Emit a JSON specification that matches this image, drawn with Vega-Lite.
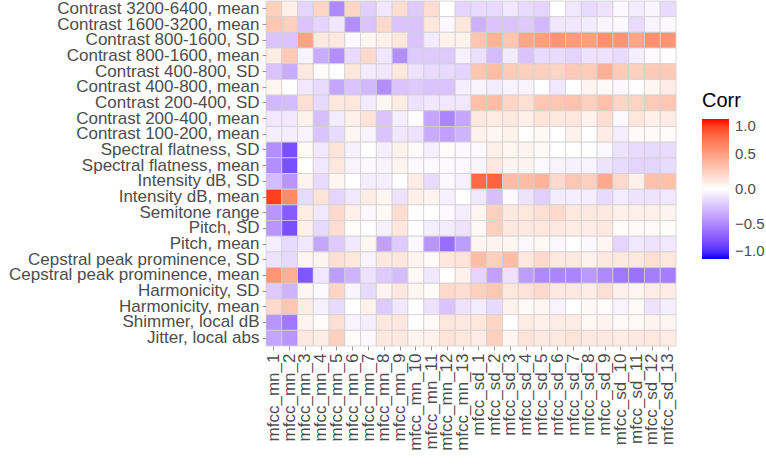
{
"$schema": "https://vega.github.io/schema/vega-lite/v6.json",
"width": 410, "height": 345,
"autosize": {"type": "none"},
"padding": {"left": 266, "top": 1, "right": 90, "bottom": 119},
"background": "white",
"datasets": {
"features": [
{"r":1,"feature":"Contrast 3200-6400, mean"},{"r":2,"feature":"Contrast 1600-3200, mean"},{"r":3,"feature":"Contrast 800-1600, SD"},{"r":4,"feature":"Contrast 800-1600, mean"},{"r":5,"feature":"Contrast 400-800, SD"},{"r":6,"feature":"Contrast 400-800, mean"},{"r":7,"feature":"Contrast 200-400, SD"},{"r":8,"feature":"Contrast 200-400, mean"},{"r":9,"feature":"Contrast 100-200, mean"},{"r":10,"feature":"Spectral flatness, SD"},{"r":11,"feature":"Spectral flatness, mean"},{"r":12,"feature":"Intensity dB, SD"},{"r":13,"feature":"Intensity dB, mean"},{"r":14,"feature":"Semitone range"},{"r":15,"feature":"Pitch, SD"},{"r":16,"feature":"Pitch, mean"},{"r":17,"feature":"Cepstral peak prominence, SD"},{"r":18,"feature":"Cepstral peak prominence, mean"},{"r":19,"feature":"Harmonicity, SD"},{"r":20,"feature":"Harmonicity, mean"},{"r":21,"feature":"Shimmer, local dB"},{"r":22,"feature":"Jitter, local abs"}
],
"mfccs": [
{"c":1,"mfcc":"mfcc_mn_1"},{"c":2,"mfcc":"mfcc_mn_2"},{"c":3,"mfcc":"mfcc_mn_3"},{"c":4,"mfcc":"mfcc_mn_4"},{"c":5,"mfcc":"mfcc_mn_5"},{"c":6,"mfcc":"mfcc_mn_6"},{"c":7,"mfcc":"mfcc_mn_7"},{"c":8,"mfcc":"mfcc_mn_8"},{"c":9,"mfcc":"mfcc_mn_9"},{"c":10,"mfcc":"mfcc_mn_10"},{"c":11,"mfcc":"mfcc_mn_11"},{"c":12,"mfcc":"mfcc_mn_12"},{"c":13,"mfcc":"mfcc_mn_13"},{"c":14,"mfcc":"mfcc_sd_1"},{"c":15,"mfcc":"mfcc_sd_2"},{"c":16,"mfcc":"mfcc_sd_3"},{"c":17,"mfcc":"mfcc_sd_4"},{"c":18,"mfcc":"mfcc_sd_5"},{"c":19,"mfcc":"mfcc_sd_6"},{"c":20,"mfcc":"mfcc_sd_7"},{"c":21,"mfcc":"mfcc_sd_8"},{"c":22,"mfcc":"mfcc_sd_9"},{"c":23,"mfcc":"mfcc_sd_10"},{"c":24,"mfcc":"mfcc_sd_11"},{"c":25,"mfcc":"mfcc_sd_12"},{"c":26,"mfcc":"mfcc_sd_13"}
],
"cells": [
{"r":1,"c":1,"v":0.25},{"r":1,"c":2,"v":0.08},{"r":1,"c":3,"v":-0.18},{"r":1,"c":4,"v":0.22},{"r":1,"c":5,"v":-0.5},{"r":1,"c":6,"v":0.22},{"r":1,"c":7,"v":-0.2},{"r":1,"c":8,"v":-0.1},{"r":1,"c":9,"v":0.18},{"r":1,"c":10,"v":-0.22},{"r":1,"c":11,"v":0.18},{"r":1,"c":12,"v":0},{"r":1,"c":13,"v":-0.18},{"r":1,"c":14,"v":-0.15},{"r":1,"c":15,"v":-0.15},{"r":1,"c":16,"v":-0.1},{"r":1,"c":17,"v":-0.15},{"r":1,"c":18,"v":-0.18},{"r":1,"c":19,"v":0},{"r":1,"c":20,"v":-0.1},{"r":1,"c":21,"v":-0.15},{"r":1,"c":22,"v":-0.12},{"r":1,"c":23,"v":-0.03},{"r":1,"c":24,"v":-0.08},{"r":1,"c":25,"v":-0.04},{"r":1,"c":26,"v":-0.15},
{"r":2,"c":1,"v":0.3},{"r":2,"c":2,"v":0.25},{"r":2,"c":3,"v":-0.25},{"r":2,"c":4,"v":-0.18},{"r":2,"c":5,"v":-0.1},{"r":2,"c":6,"v":-0.48},{"r":2,"c":7,"v":-0.25},{"r":2,"c":8,"v":0.2},{"r":2,"c":9,"v":-0.25},{"r":2,"c":10,"v":-0.25},{"r":2,"c":11,"v":0.13},{"r":2,"c":12,"v":-0.03},{"r":2,"c":13,"v":0.13},{"r":2,"c":14,"v":-0.33},{"r":2,"c":15,"v":-0.25},{"r":2,"c":16,"v":-0.25},{"r":2,"c":17,"v":-0.22},{"r":2,"c":18,"v":-0.3},{"r":2,"c":19,"v":-0.1},{"r":2,"c":20,"v":-0.1},{"r":2,"c":21,"v":-0.08},{"r":2,"c":22,"v":-0.04},{"r":2,"c":23,"v":-0.03},{"r":2,"c":24,"v":-0.15},{"r":2,"c":25,"v":-0.05},{"r":2,"c":26,"v":-0.03},
{"r":3,"c":1,"v":-0.25},{"r":3,"c":2,"v":-0.25},{"r":3,"c":3,"v":0.48},{"r":3,"c":4,"v":0.12},{"r":3,"c":5,"v":0.12},{"r":3,"c":6,"v":-0.03},{"r":3,"c":7,"v":0.05},{"r":3,"c":8,"v":0.08},{"r":3,"c":9,"v":0.13},{"r":3,"c":10,"v":-0.25},{"r":3,"c":11,"v":-0.08},{"r":3,"c":12,"v":0.07},{"r":3,"c":13,"v":0.07},{"r":3,"c":14,"v":0.3},{"r":3,"c":15,"v":0.4},{"r":3,"c":16,"v":0.3},{"r":3,"c":17,"v":0.47},{"r":3,"c":18,"v":0.5},{"r":3,"c":19,"v":0.55},{"r":3,"c":20,"v":0.52},{"r":3,"c":21,"v":0.5},{"r":3,"c":22,"v":0.57},{"r":3,"c":23,"v":0.55},{"r":3,"c":24,"v":0.47},{"r":3,"c":25,"v":0.57},{"r":3,"c":26,"v":0.55},
{"r":4,"c":1,"v":0.1},{"r":4,"c":2,"v":0.28},{"r":4,"c":3,"v":-0.05},{"r":4,"c":4,"v":-0.35},{"r":4,"c":5,"v":-0.48},{"r":4,"c":6,"v":-0.15},{"r":4,"c":7,"v":0.2},{"r":4,"c":8,"v":-0.1},{"r":4,"c":9,"v":-0.48},{"r":4,"c":10,"v":-0.22},{"r":4,"c":11,"v":-0.22},{"r":4,"c":12,"v":-0.22},{"r":4,"c":13,"v":-0.06},{"r":4,"c":14,"v":-0.13},{"r":4,"c":15,"v":-0.28},{"r":4,"c":16,"v":-0.08},{"r":4,"c":17,"v":-0.25},{"r":4,"c":18,"v":-0.15},{"r":4,"c":19,"v":-0.15},{"r":4,"c":20,"v":-0.18},{"r":4,"c":21,"v":-0.12},{"r":4,"c":22,"v":-0.12},{"r":4,"c":23,"v":-0.15},{"r":4,"c":24,"v":-0.07},{"r":4,"c":25,"v":-0.02},{"r":4,"c":26,"v":0},
{"r":5,"c":1,"v":-0.25},{"r":5,"c":2,"v":-0.35},{"r":5,"c":3,"v":0.12},{"r":5,"c":4,"v":0.02},{"r":5,"c":5,"v":0},{"r":5,"c":6,"v":0.13},{"r":5,"c":7,"v":-0.08},{"r":5,"c":8,"v":-0.1},{"r":5,"c":9,"v":0.13},{"r":5,"c":10,"v":-0.12},{"r":5,"c":11,"v":-0.15},{"r":5,"c":12,"v":-0.16},{"r":5,"c":13,"v":-0.18},{"r":5,"c":14,"v":0.3},{"r":5,"c":15,"v":0.35},{"r":5,"c":16,"v":0.27},{"r":5,"c":17,"v":0.25},{"r":5,"c":18,"v":0.25},{"r":5,"c":19,"v":0.22},{"r":5,"c":20,"v":0.28},{"r":5,"c":21,"v":0.27},{"r":5,"c":22,"v":0.42},{"r":5,"c":23,"v":0.27},{"r":5,"c":24,"v":0.25},{"r":5,"c":25,"v":0.28},{"r":5,"c":26,"v":0.28},
{"r":6,"c":1,"v":0.05},{"r":6,"c":2,"v":0},{"r":6,"c":3,"v":-0.1},{"r":6,"c":4,"v":-0.15},{"r":6,"c":5,"v":-0.38},{"r":6,"c":6,"v":-0.25},{"r":6,"c":7,"v":-0.3},{"r":6,"c":8,"v":-0.48},{"r":6,"c":9,"v":-0.25},{"r":6,"c":10,"v":-0.22},{"r":6,"c":11,"v":-0.25},{"r":6,"c":12,"v":-0.25},{"r":6,"c":13,"v":-0.07},{"r":6,"c":14,"v":-0.05},{"r":6,"c":15,"v":-0.08},{"r":6,"c":16,"v":-0.05},{"r":6,"c":17,"v":-0.05},{"r":6,"c":18,"v":0},{"r":6,"c":19,"v":-0.1},{"r":6,"c":20,"v":0},{"r":6,"c":21,"v":0.06},{"r":6,"c":22,"v":0.03},{"r":6,"c":23,"v":-0.03},{"r":6,"c":24,"v":0},{"r":6,"c":25,"v":0.05},{"r":6,"c":26,"v":0.1},
{"r":7,"c":1,"v":-0.3},{"r":7,"c":2,"v":-0.28},{"r":7,"c":3,"v":0.17},{"r":7,"c":4,"v":-0.16},{"r":7,"c":5,"v":0.13},{"r":7,"c":6,"v":0.13},{"r":7,"c":7,"v":-0.08},{"r":7,"c":8,"v":0.05},{"r":7,"c":9,"v":0.1},{"r":7,"c":10,"v":-0.12},{"r":7,"c":11,"v":-0.1},{"r":7,"c":12,"v":-0.1},{"r":7,"c":13,"v":-0.1},{"r":7,"c":14,"v":0.33},{"r":7,"c":15,"v":0.35},{"r":7,"c":16,"v":0.22},{"r":7,"c":17,"v":0.17},{"r":7,"c":18,"v":0.3},{"r":7,"c":19,"v":0.3},{"r":7,"c":20,"v":0.32},{"r":7,"c":21,"v":0.25},{"r":7,"c":22,"v":0.33},{"r":7,"c":23,"v":0.22},{"r":7,"c":24,"v":0.23},{"r":7,"c":25,"v":0.28},{"r":7,"c":26,"v":0.3},
{"r":8,"c":1,"v":-0.1},{"r":8,"c":2,"v":-0.1},{"r":8,"c":3,"v":0.07},{"r":8,"c":4,"v":-0.27},{"r":8,"c":5,"v":-0.08},{"r":8,"c":6,"v":0.08},{"r":8,"c":7,"v":0.15},{"r":8,"c":8,"v":-0.25},{"r":8,"c":9,"v":-0.07},{"r":8,"c":10,"v":0},{"r":8,"c":11,"v":-0.38},{"r":8,"c":12,"v":-0.52},{"r":8,"c":13,"v":-0.38},{"r":8,"c":14,"v":0.12},{"r":8,"c":15,"v":0.1},{"r":8,"c":16,"v":0.12},{"r":8,"c":17,"v":0.08},{"r":8,"c":18,"v":0.15},{"r":8,"c":19,"v":0.12},{"r":8,"c":20,"v":0.13},{"r":8,"c":21,"v":0.07},{"r":8,"c":22,"v":0.18},{"r":8,"c":23,"v":-0.02},{"r":8,"c":24,"v":0.13},{"r":8,"c":25,"v":0.08},{"r":8,"c":26,"v":0.1},
{"r":9,"c":1,"v":-0.07},{"r":9,"c":2,"v":-0.07},{"r":9,"c":3,"v":-0.05},{"r":9,"c":4,"v":-0.25},{"r":9,"c":5,"v":-0.15},{"r":9,"c":6,"v":0.05},{"r":9,"c":7,"v":-0.05},{"r":9,"c":8,"v":-0.25},{"r":9,"c":9,"v":-0.1},{"r":9,"c":10,"v":-0.12},{"r":9,"c":11,"v":-0.35},{"r":9,"c":12,"v":-0.4},{"r":9,"c":13,"v":-0.32},{"r":9,"c":14,"v":0.07},{"r":9,"c":15,"v":0.05},{"r":9,"c":16,"v":0.07},{"r":9,"c":17,"v":0},{"r":9,"c":18,"v":0.04},{"r":9,"c":19,"v":0},{"r":9,"c":20,"v":0.07},{"r":9,"c":21,"v":0},{"r":9,"c":22,"v":0.1},{"r":9,"c":23,"v":-0.07},{"r":9,"c":24,"v":0.03},{"r":9,"c":25,"v":0.03},{"r":9,"c":26,"v":0.02},
{"r":10,"c":1,"v":-0.48},{"r":10,"c":2,"v":-0.75},{"r":10,"c":3,"v":0.03},{"r":10,"c":4,"v":-0.1},{"r":10,"c":5,"v":0.15},{"r":10,"c":6,"v":-0.06},{"r":10,"c":7,"v":0},{"r":10,"c":8,"v":-0.07},{"r":10,"c":9,"v":0.07},{"r":10,"c":10,"v":0.02},{"r":10,"c":11,"v":-0.07},{"r":10,"c":12,"v":0.02},{"r":10,"c":13,"v":-0.03},{"r":10,"c":14,"v":-0.02},{"r":10,"c":15,"v":0.08},{"r":10,"c":16,"v":0.05},{"r":10,"c":17,"v":0.06},{"r":10,"c":18,"v":0.04},{"r":10,"c":19,"v":0},{"r":10,"c":20,"v":0},{"r":10,"c":21,"v":-0.01},{"r":10,"c":22,"v":-0.03},{"r":10,"c":23,"v":-0.12},{"r":10,"c":24,"v":-0.15},{"r":10,"c":25,"v":-0.16},{"r":10,"c":26,"v":-0.15},
{"r":11,"c":1,"v":-0.48},{"r":11,"c":2,"v":-0.75},{"r":11,"c":3,"v":0},{"r":11,"c":4,"v":-0.1},{"r":11,"c":5,"v":0.13},{"r":11,"c":6,"v":-0.05},{"r":11,"c":7,"v":-0.03},{"r":11,"c":8,"v":-0.05},{"r":11,"c":9,"v":0.06},{"r":11,"c":10,"v":-0.02},{"r":11,"c":11,"v":-0.02},{"r":11,"c":12,"v":-0.02},{"r":11,"c":13,"v":-0.03},{"r":11,"c":14,"v":-0.04},{"r":11,"c":15,"v":0.12},{"r":11,"c":16,"v":0.06},{"r":11,"c":17,"v":0.06},{"r":11,"c":18,"v":-0.02},{"r":11,"c":19,"v":-0.05},{"r":11,"c":20,"v":-0.06},{"r":11,"c":21,"v":-0.05},{"r":11,"c":22,"v":-0.12},{"r":11,"c":23,"v":-0.15},{"r":11,"c":24,"v":-0.18},{"r":11,"c":25,"v":-0.18},{"r":11,"c":26,"v":-0.15},
{"r":12,"c":1,"v":-0.28},{"r":12,"c":2,"v":-0.45},{"r":12,"c":3,"v":0.06},{"r":12,"c":4,"v":-0.15},{"r":12,"c":5,"v":0.05},{"r":12,"c":6,"v":0},{"r":12,"c":7,"v":-0.07},{"r":12,"c":8,"v":-0.07},{"r":12,"c":9,"v":0},{"r":12,"c":10,"v":0.1},{"r":12,"c":11,"v":-0.15},{"r":12,"c":12,"v":-0.03},{"r":12,"c":13,"v":-0.06},{"r":12,"c":14,"v":0.75},{"r":12,"c":15,"v":0.78},{"r":12,"c":16,"v":0.35},{"r":12,"c":17,"v":0.35},{"r":12,"c":18,"v":0.4},{"r":12,"c":19,"v":0.2},{"r":12,"c":20,"v":0.3},{"r":12,"c":21,"v":0.25},{"r":12,"c":22,"v":0.45},{"r":12,"c":23,"v":0.2},{"r":12,"c":24,"v":0.08},{"r":12,"c":25,"v":0.33},{"r":12,"c":26,"v":0.33},
{"r":13,"c":1,"v":0.9},{"r":13,"c":2,"v":0.6},{"r":13,"c":3,"v":-0.15},{"r":13,"c":4,"v":0.15},{"r":13,"c":5,"v":-0.18},{"r":13,"c":6,"v":-0.1},{"r":13,"c":7,"v":0.1},{"r":13,"c":8,"v":0.05},{"r":13,"c":9,"v":-0.12},{"r":13,"c":10,"v":0.08},{"r":13,"c":11,"v":0.06},{"r":13,"c":12,"v":-0.06},{"r":13,"c":13,"v":0},{"r":13,"c":14,"v":-0.1},{"r":13,"c":15,"v":-0.27},{"r":13,"c":16,"v":-0.02},{"r":13,"c":17,"v":-0.12},{"r":13,"c":18,"v":-0.2},{"r":13,"c":19,"v":-0.08},{"r":13,"c":20,"v":-0.07},{"r":13,"c":21,"v":-0.07},{"r":13,"c":22,"v":-0.15},{"r":13,"c":23,"v":-0.08},{"r":13,"c":24,"v":-0.12},{"r":13,"c":25,"v":-0.12},{"r":13,"c":26,"v":-0.1},
{"r":14,"c":1,"v":-0.45},{"r":14,"c":2,"v":-0.7},{"r":14,"c":3,"v":0.1},{"r":14,"c":4,"v":-0.1},{"r":14,"c":5,"v":0.2},{"r":14,"c":6,"v":0.08},{"r":14,"c":7,"v":-0.03},{"r":14,"c":8,"v":0.04},{"r":14,"c":9,"v":0.18},{"r":14,"c":10,"v":0},{"r":14,"c":11,"v":0},{"r":14,"c":12,"v":-0.02},{"r":14,"c":13,"v":-0.07},{"r":14,"c":14,"v":0.05},{"r":14,"c":15,"v":0.25},{"r":14,"c":16,"v":0.12},{"r":14,"c":17,"v":0.13},{"r":14,"c":18,"v":0.17},{"r":14,"c":19,"v":0.2},{"r":14,"c":20,"v":0.12},{"r":14,"c":21,"v":0.12},{"r":14,"c":22,"v":0.12},{"r":14,"c":23,"v":0.08},{"r":14,"c":24,"v":0.08},{"r":14,"c":25,"v":0.08},{"r":14,"c":26,"v":0.06},
{"r":15,"c":1,"v":-0.45},{"r":15,"c":2,"v":-0.75},{"r":15,"c":3,"v":0.08},{"r":15,"c":4,"v":-0.16},{"r":15,"c":5,"v":0.18},{"r":15,"c":6,"v":0.02},{"r":15,"c":7,"v":0},{"r":15,"c":8,"v":-0.06},{"r":15,"c":9,"v":0.13},{"r":15,"c":10,"v":0},{"r":15,"c":11,"v":-0.07},{"r":15,"c":12,"v":-0.08},{"r":15,"c":13,"v":-0.12},{"r":15,"c":14,"v":0.04},{"r":15,"c":15,"v":0.25},{"r":15,"c":16,"v":0.12},{"r":15,"c":17,"v":0.12},{"r":15,"c":18,"v":0.13},{"r":15,"c":19,"v":0.12},{"r":15,"c":20,"v":0.1},{"r":15,"c":21,"v":0.1},{"r":15,"c":22,"v":0.12},{"r":15,"c":23,"v":0.02},{"r":15,"c":24,"v":0.03},{"r":15,"c":25,"v":0.03},{"r":15,"c":26,"v":0.01},
{"r":16,"c":1,"v":-0.07},{"r":16,"c":2,"v":-0.15},{"r":16,"c":3,"v":-0.1},{"r":16,"c":4,"v":-0.38},{"r":16,"c":5,"v":-0.22},{"r":16,"c":6,"v":-0.1},{"r":16,"c":7,"v":0.05},{"r":16,"c":8,"v":-0.4},{"r":16,"c":9,"v":-0.22},{"r":16,"c":10,"v":-0.03},{"r":16,"c":11,"v":-0.45},{"r":16,"c":12,"v":-0.62},{"r":16,"c":13,"v":-0.42},{"r":16,"c":14,"v":0.05},{"r":16,"c":15,"v":0.06},{"r":16,"c":16,"v":0.05},{"r":16,"c":17,"v":-0.03},{"r":16,"c":18,"v":0.04},{"r":16,"c":19,"v":-0.03},{"r":16,"c":20,"v":0},{"r":16,"c":21,"v":-0.03},{"r":16,"c":22,"v":0.05},{"r":16,"c":23,"v":-0.18},{"r":16,"c":24,"v":-0.1},{"r":16,"c":25,"v":-0.12},{"r":16,"c":26,"v":-0.1},
{"r":17,"c":1,"v":-0.12},{"r":17,"c":2,"v":-0.16},{"r":17,"c":3,"v":0.05},{"r":17,"c":4,"v":0.06},{"r":17,"c":5,"v":0.17},{"r":17,"c":6,"v":0.13},{"r":17,"c":7,"v":-0.05},{"r":17,"c":8,"v":0.12},{"r":17,"c":9,"v":0.13},{"r":17,"c":10,"v":0.06},{"r":17,"c":11,"v":0.03},{"r":17,"c":12,"v":0.13},{"r":17,"c":13,"v":0.15},{"r":17,"c":14,"v":0.35},{"r":17,"c":15,"v":0.25},{"r":17,"c":16,"v":0.35},{"r":17,"c":17,"v":0.12},{"r":17,"c":18,"v":0.2},{"r":17,"c":19,"v":0.12},{"r":17,"c":20,"v":0.12},{"r":17,"c":21,"v":0.07},{"r":17,"c":22,"v":0.12},{"r":17,"c":23,"v":0.12},{"r":17,"c":24,"v":0.12},{"r":17,"c":25,"v":0.17},{"r":17,"c":26,"v":0.13},
{"r":18,"c":1,"v":0.55},{"r":18,"c":2,"v":0.42},{"r":18,"c":3,"v":-0.72},{"r":18,"c":4,"v":-0.1},{"r":18,"c":5,"v":-0.42},{"r":18,"c":6,"v":-0.32},{"r":18,"c":7,"v":-0.12},{"r":18,"c":8,"v":-0.22},{"r":18,"c":9,"v":-0.28},{"r":18,"c":10,"v":0.04},{"r":18,"c":11,"v":-0.1},{"r":18,"c":12,"v":0},{"r":18,"c":13,"v":0.07},{"r":18,"c":14,"v":-0.18},{"r":18,"c":15,"v":-0.4},{"r":18,"c":16,"v":-0.12},{"r":18,"c":17,"v":-0.42},{"r":18,"c":18,"v":-0.5},{"r":18,"c":19,"v":-0.52},{"r":18,"c":20,"v":-0.52},{"r":18,"c":21,"v":-0.43},{"r":18,"c":22,"v":-0.5},{"r":18,"c":23,"v":-0.58},{"r":18,"c":24,"v":-0.6},{"r":18,"c":25,"v":-0.55},{"r":18,"c":26,"v":-0.55},
{"r":19,"c":1,"v":-0.22},{"r":19,"c":2,"v":-0.32},{"r":19,"c":3,"v":0.05},{"r":19,"c":4,"v":-0.02},{"r":19,"c":5,"v":0.22},{"r":19,"c":6,"v":-0.04},{"r":19,"c":7,"v":-0.16},{"r":19,"c":8,"v":0.06},{"r":19,"c":9,"v":0.12},{"r":19,"c":10,"v":0.05},{"r":19,"c":11,"v":0.02},{"r":19,"c":12,"v":0.2},{"r":19,"c":13,"v":0.18},{"r":19,"c":14,"v":0.25},{"r":19,"c":15,"v":0.3},{"r":19,"c":16,"v":0.13},{"r":19,"c":17,"v":0.15},{"r":19,"c":18,"v":0.2},{"r":19,"c":19,"v":0.12},{"r":19,"c":20,"v":0.12},{"r":19,"c":21,"v":0.1},{"r":19,"c":22,"v":0.17},{"r":19,"c":23,"v":0.08},{"r":19,"c":24,"v":0.05},{"r":19,"c":25,"v":0.1},{"r":19,"c":26,"v":0.1},
{"r":20,"c":1,"v":0.2},{"r":20,"c":2,"v":0.3},{"r":20,"c":3,"v":0.1},{"r":20,"c":4,"v":-0.06},{"r":20,"c":5,"v":-0.15},{"r":20,"c":6,"v":0},{"r":20,"c":7,"v":0.07},{"r":20,"c":8,"v":-0.22},{"r":20,"c":9,"v":-0.1},{"r":20,"c":10,"v":0},{"r":20,"c":11,"v":-0.12},{"r":20,"c":12,"v":-0.25},{"r":20,"c":13,"v":-0.12},{"r":20,"c":14,"v":-0.08},{"r":20,"c":15,"v":-0.16},{"r":20,"c":16,"v":0.07},{"r":20,"c":17,"v":0.03},{"r":20,"c":18,"v":0.05},{"r":20,"c":19,"v":-0.05},{"r":20,"c":20,"v":0},{"r":20,"c":21,"v":0.04},{"r":20,"c":22,"v":0.02},{"r":20,"c":23,"v":-0.05},{"r":20,"c":24,"v":0.03},{"r":20,"c":25,"v":-0.12},{"r":20,"c":26,"v":-0.07},
{"r":21,"c":1,"v":-0.45},{"r":21,"c":2,"v":-0.58},{"r":21,"c":3,"v":0.06},{"r":21,"c":4,"v":0.02},{"r":21,"c":5,"v":0.17},{"r":21,"c":6,"v":-0.05},{"r":21,"c":7,"v":-0.07},{"r":21,"c":8,"v":0.12},{"r":21,"c":9,"v":0.12},{"r":21,"c":10,"v":0},{"r":21,"c":11,"v":0.03},{"r":21,"c":12,"v":0.13},{"r":21,"c":13,"v":0.12},{"r":21,"c":14,"v":0.13},{"r":21,"c":15,"v":0.22},{"r":21,"c":16,"v":0},{"r":21,"c":17,"v":0.1},{"r":21,"c":18,"v":0.08},{"r":21,"c":19,"v":0.1},{"r":21,"c":20,"v":0.1},{"r":21,"c":21,"v":0.04},{"r":21,"c":22,"v":0.06},{"r":21,"c":23,"v":0.03},{"r":21,"c":24,"v":0.03},{"r":21,"c":25,"v":0.06},{"r":21,"c":26,"v":0.05},
{"r":22,"c":1,"v":-0.38},{"r":22,"c":2,"v":-0.45},{"r":22,"c":3,"v":0.12},{"r":22,"c":4,"v":0.1},{"r":22,"c":5,"v":0.25},{"r":22,"c":6,"v":0.02},{"r":22,"c":7,"v":-0.03},{"r":22,"c":8,"v":0.12},{"r":22,"c":9,"v":0.12},{"r":22,"c":10,"v":0.06},{"r":22,"c":11,"v":0.07},{"r":22,"c":12,"v":0.15},{"r":22,"c":13,"v":0.13},{"r":22,"c":14,"v":0.1},{"r":22,"c":15,"v":0.25},{"r":22,"c":16,"v":0.05},{"r":22,"c":17,"v":0.15},{"r":22,"c":18,"v":0.12},{"r":22,"c":19,"v":0.12},{"r":22,"c":20,"v":0.15},{"r":22,"c":21,"v":0.12},{"r":22,"c":22,"v":0.12},{"r":22,"c":23,"v":0.1},{"r":22,"c":24,"v":0.12},{"r":22,"c":25,"v":0.13},{"r":22,"c":26,"v":0.1}
]
},
"data": {"name": "cells"},
"transform": [
{"lookup": "r", "from": {"data": {"name": "features"}, "key": "r", "fields": ["feature"]}},
{"lookup": "c", "from": {"data": {"name": "mfccs"}, "key": "c", "fields": ["mfcc"]}}
],
"mark": {"type": "rect", "stroke": "#d0d0d0", "strokeWidth": 0.8},
"encoding": {
"x": {"field": "mfcc", "type": "nominal", "sort": {"field": "c", "op": "min"},
 "scale": {"paddingInner": 0, "paddingOuter": 0},
 "axis": {"title": null, "labelAngle": -90, "labelAlign": "right", "labelBaseline": "middle", "labelFontSize": 17, "labelColor": "#4d4d4d", "labelFont": "Liberation Sans", "tickColor": "#999999", "tickSize": 4, "labelPadding": 3, "domain": false, "labelOverlap": false, "labelLimit": 400}},
"y": {"field": "feature", "type": "nominal", "sort": {"field": "r", "op": "min"},
 "scale": {"paddingInner": 0, "paddingOuter": 0},
 "axis": {"title": null, "labelFontSize": 17, "labelColor": "#4d4d4d", "labelFont": "Liberation Sans", "tickColor": "#999999", "tickSize": 4, "labelPadding": 3, "domain": false, "labelOverlap": false, "labelLimit": 400}},
"color": {"field": "v", "type": "quantitative", "title": "Corr",
 "scale": {"domain": [-1, 0, 1], "range": ["#0000ff", "#ffffff", "#ff0000"], "interpolate": "lab"},
 "legend": {"orient": "none", "legendX": 436, "legendY": 90, "direction": "vertical", "gradientLength": 140, "gradientThickness": 27, "gradientStrokeWidth": 0, "titleFontSize": 20, "titleFont": "Liberation Sans", "titleFontWeight": "normal", "titleColor": "#000000", "titlePadding": 8, "labelFontSize": 15, "labelFont": "Liberation Sans", "labelColor": "#4d4d4d", "labelOffset": 6, "labelBaseline": "middle", "labelOverlap": false, "values": [-1, -0.5, 0, 0.5, 1], "format": ".1f"}}
},
"config": {"view": {"stroke": null}}
}
